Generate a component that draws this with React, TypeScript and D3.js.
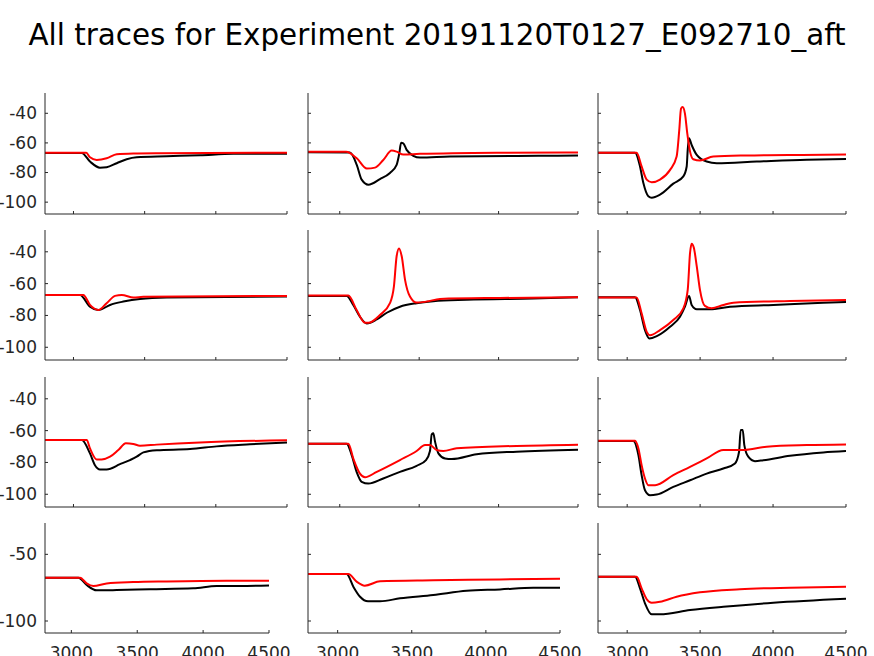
import React from 'react';
import * as d3 from 'd3';

type Pt = [number, number];

const title = 'All traces for Experiment 20191120T0127_E092710_aft';

const xTicks = [3000, 3500, 4000, 4500];
const yTicksUpper = [-100, -80, -60, -40];
const yTicksBottom = [-100, -50];

// row 1
const blackR1C1: Pt[] = [[2800, -66.8], [3058, -66.8], [3116, -72.6], [3186, -76.7], [3233, -76.4], [3304, -73.7], [3374, -71], [3444, -69.7], [3655, -69], [3889, -68.3], [4122, -67.4], [4500, -67.3]];
const redR1C1: Pt[] = [[2800, -66.7], [3090, -66.7], [3116, -69.7], [3163, -71.5], [3233, -70.4], [3304, -67.7], [3420, -67.1], [3600, -66.9], [4500, -66.6]];
const blackR1C2: Pt[] = [[2800, -66.3], [3064, -66.5], [3107, -74.8], [3138, -84.8], [3180, -88.2], [3253, -84.4], [3316, -80.3], [3358, -74.8], [3375, -67], [3386, -59.9], [3400, -60.3], [3421, -64.7], [3463, -68.7], [3505, -69.9], [3694, -69.2], [4250, -68.7], [4500, -68.5]];
const redR1C2: Pt[] = [[2800, -66], [3040, -66], [3107, -70.4], [3170, -77.3], [3222, -76.7], [3274, -71.5], [3327, -65.2], [3358, -65.9], [3400, -67.9], [3505, -67.4], [3988, -66.6], [4500, -66.4]];
const blackR1C3: Pt[] = [[2800, -66.6], [3054, -66.6], [3088, -75.9], [3111, -87.1], [3145, -96], [3168, -97], [3225, -94.9], [3316, -87.5], [3385, -82.6], [3408, -75.9], [3415, -64.7], [3424, -56.9], [3442, -61.4], [3477, -68.1], [3545, -72.6], [3614, -73.7], [3888, -72.6], [4231, -71.3], [4500, -70.8]];
const redR1C3: Pt[] = [[2800, -66.6], [3065, -66.6], [3099, -75.9], [3134, -84.8], [3168, -86.6], [3225, -84.8], [3294, -78.2], [3339, -69.2], [3357, -51.4], [3369, -36.9], [3380, -35.8], [3396, -40.2], [3412, -53.6], [3431, -65.9], [3453, -71], [3499, -71.9], [3590, -69.2], [3819, -68.5], [4200, -68.1], [4500, -67.9]];

// row 2
const blackR2C1: Pt[] = [[2800, -67.1], [3046, -67.1], [3116, -74.5], [3175, -76.6], [3257, -73.4], [3350, -71.3], [3467, -69.6], [3655, -68.7], [4500, -68.1]];
const redR2C1: Pt[] = [[2800, -67.1], [3069, -67.1], [3116, -73.4], [3175, -76.6], [3233, -72.3], [3292, -67.7], [3339, -67.1], [3421, -68.7], [3491, -68.3], [4500, -67.7]];
const blackR2C2: Pt[] = [[2800, -67.7], [3043, -67.7], [3085, -73.4], [3127, -80.8], [3170, -85], [3233, -82.5], [3296, -78.3], [3379, -74.5], [3484, -72.3], [3589, -71.1], [3799, -70.2], [4219, -69.4], [4500, -68.6]];
const redR2C2: Pt[] = [[2800, -67.5], [3054, -67.5], [3106, -76.6], [3159, -84.6], [3180, -84.6], [3253, -79.7], [3316, -72.3], [3341, -61.8], [3358, -42.8], [3373, -37.9], [3390, -42.8], [3411, -57.6], [3442, -68.1], [3484, -71.9], [3547, -71.3], [3631, -69.6], [4009, -69], [4500, -68.6]];
const blackR2C3: Pt[] = [[2800, -68.5], [3054, -68.5], [3088, -76.6], [3122, -89.2], [3152, -94.5], [3203, -93], [3294, -87.1], [3362, -80.8], [3396, -74.5], [3424, -67.7], [3442, -73.4], [3477, -76.1], [3568, -76.1], [3705, -74.5], [4002, -73.4], [4344, -72], [4500, -71.5]];
const redR2C3: Pt[] = [[2800, -68.7], [3065, -68.7], [3099, -78.7], [3134, -90.3], [3157, -92.4], [3225, -89.2], [3316, -82.9], [3385, -75.5], [3415, -63.9], [3431, -40.6], [3442, -34.9], [3457, -37.5], [3477, -49.1], [3499, -63.9], [3533, -74], [3579, -75.5], [3659, -73.4], [3728, -72], [4116, -70.9], [4500, -70.3]];

// row 3
const blackR3C1: Pt[] = [[2800, -65.9], [3058, -65.9], [3116, -74.3], [3151, -81.7], [3186, -84.4], [3233, -84.4], [3327, -81.1], [3397, -78.5], [3444, -76.4], [3491, -73.7], [3585, -72.3], [3819, -71.6], [4006, -69.9], [4240, -68.6], [4500, -67.4]];
const redR3C1: Pt[] = [[2800, -65.9], [3093, -65.9], [3116, -71.2], [3163, -78.1], [3198, -78.1], [3257, -76.4], [3315, -72.2], [3368, -68], [3420, -68.4], [3467, -69.5], [3585, -68.8], [3889, -67.4], [4500, -66.1]];
const blackR3C2: Pt[] = [[2800, -68.2], [3043, -68.2], [3075, -75.4], [3106, -85.9], [3138, -92.2], [3180, -93.3], [3274, -90.1], [3379, -85.9], [3484, -82.1], [3543, -78.5], [3568, -72.8], [3579, -62.3], [3589, -61.7], [3600, -67], [3621, -74.3], [3663, -77.5], [3705, -77.9], [3862, -74.9], [4114, -73.2], [4500, -72]];
const redR3C2: Pt[] = [[2800, -68.2], [3054, -68.2], [3085, -77.5], [3127, -87], [3159, -89.3], [3233, -85.9], [3379, -78.5], [3484, -72.8], [3537, -69.1], [3568, -69.1], [3610, -72.2], [3652, -72.8], [3736, -71.1], [4114, -69.6], [4500, -68.8]];
const blackR3C3: Pt[] = [[2800, -66.5], [3042, -66.5], [3077, -75.4], [3099, -88], [3122, -97.5], [3156, -100.6], [3202, -100.2], [3316, -95.4], [3431, -91.2], [3545, -87], [3659, -83.8], [3739, -80.6], [3767, -73.3], [3778, -59.6], [3792, -59.6], [3803, -69.1], [3830, -76.4], [3876, -79.2], [3933, -78.6], [4116, -75.8], [4344, -73.7], [4500, -72.8]];
const redR3C3: Pt[] = [[2800, -66.3], [3054, -66.3], [3077, -71.2], [3099, -81.7], [3122, -90.1], [3145, -94.3], [3191, -94.3], [3316, -88], [3431, -82.8], [3545, -77.5], [3659, -72.2], [3796, -72.2], [3956, -70.1], [4231, -69.1], [4500, -68.7]];

// row 4
const blackR4C1: Pt[] = [[2800, -67.5], [3053, -67.5], [3116, -73], [3192, -77], [3344, -76.8], [3597, -76.2], [3925, -75.5], [4103, -73.8], [4280, -73.8], [4500, -73.3]];
const redR4C1: Pt[] = [[2800, -67.5], [3066, -67.5], [3116, -71.8], [3167, -73.8], [3268, -71.8], [3470, -70.8], [3723, -70.3], [4178, -69.8], [4500, -69.8]];
const blackR4C2: Pt[] = [[2800, -64.8], [3061, -64.8], [3106, -74.3], [3151, -81.8], [3205, -85.2], [3286, -85.2], [3421, -83], [3645, -80.5], [3871, -77.3], [4095, -76.3], [4320, -75], [4500, -75]];
const redR4C2: Pt[] = [[2800, -64.8], [3072, -64.8], [3128, -70.5], [3183, -73.5], [3286, -70.2], [3645, -69.5], [4095, -68.8], [4500, -68.3]];
const blackR4C3: Pt[] = [[2800, -66.8], [3054, -66.8], [3088, -75.5], [3122, -86.7], [3168, -95], [3225, -95], [3431, -91.8], [3659, -89.3], [4002, -86.3], [4500, -83.3]];
const redR4C3: Pt[] = [[2800, -66.8], [3065, -66.8], [3099, -75.5], [3134, -83.7], [3168, -86.3], [3225, -85.6], [3339, -81.8], [3499, -78.5], [3773, -76.2], [4116, -75], [4500, -74.3]];

const blackSeries = [
  [blackR1C1, blackR1C2, blackR1C3],
  [blackR2C1, blackR2C2, blackR2C3],
  [blackR3C1, blackR3C2, blackR3C3],
  [blackR4C1, blackR4C2, blackR4C3],
];
const redSeries = [
  [redR1C1, redR1C2, redR1C3],
  [redR2C1, redR2C2, redR2C3],
  [redR3C1, redR3C2, redR3C3],
  [redR4C1, redR4C2, redR4C3],
];

const W = 874;
const H = 656;
const axisColor = '#262626';
const font = 'DejaVu Sans, sans-serif';

// axes boxes (top, bottom per row; left/right per panel)
const rowTops = [93, 230, 377, 523];
const rowBottoms = [214, 360, 507, 633];
const colExtents = [
  [[45, 287], [308, 578], [598, 846]],
  [[45, 287], [308, 578], [598, 846]],
  [[45, 287], [308, 578], [598, 846]],
  [[45, 269], [308, 560], [598, 846]],
];

function Panel({ row, col }: { row: number; col: number }) {
  const [x0, x1] = colExtents[row][col];
  const top = rowTops[row];
  const bottom = rowBottoms[row];
  const isBottom = row === 3;
  const yDomain = isBottom ? [-109, -26.5] : [-108, -26.3];
  const x = d3.scaleLinear().domain([2800, 4500]).range([x0, x1]);
  const y = d3.scaleLinear().domain(yDomain).range([bottom, top]);
  const line = d3
    .line<Pt>()
    .x((d) => x(d[0]))
    .y((d) => y(d[1]))
    .curve(d3.curveMonotoneX);
  const yTicks = isBottom ? yTicksBottom : yTicksUpper;

  return (
    <g>
      <path d={line(blackSeries[row][col]) || ''} fill="none" stroke="#000" strokeWidth={2} />
      <path d={line(redSeries[row][col]) || ''} fill="none" stroke="#ff0000" strokeWidth={2} />

      {/* axes */}
      <line x1={x0} x2={x0} y1={top} y2={bottom} stroke={axisColor} strokeWidth={1} />
      <line x1={x0} x2={x1} y1={bottom} y2={bottom} stroke={axisColor} strokeWidth={1} />
      {xTicks.map((t) => (
        <line key={t} x1={x(t)} x2={x(t)} y1={bottom} y2={bottom - 3} stroke={axisColor} strokeWidth={1} />
      ))}
      {yTicks.map((t) => (
        <line key={t} x1={x0} x2={x0 + 3} y1={y(t)} y2={y(t)} stroke={axisColor} strokeWidth={1} />
      ))}
      {col === 0 &&
        yTicks.map((t) => (
          <text
            key={t}
            x={x0 - 8}
            y={y(t)}
            dy="0.35em"
            textAnchor="end"
            fontSize={17}
            fontFamily={font}
            fill={axisColor}
          >
            {t}
          </text>
        ))}
      {isBottom &&
        xTicks.map((t) => (
          <text
            key={t}
            x={x(t)}
            y={bottom + 26}
            textAnchor="middle"
            fontSize={17}
            fontFamily={font}
            fill={axisColor}
          >
            {t}
          </text>
        ))}
    </g>
  );
}

export default function App() {
  const cells: [number, number][] = [];
  for (let r = 0; r < 4; r++) for (let c = 0; c < 3; c++) cells.push([r, c]);
  return (
    <svg
      width={W}
      height={H}
      style={{ position: 'absolute', left: 0, top: 0, background: '#fff' }}
    >
      <rect width={W} height={H} fill="#fff" />
      <text x={437} y={45} textAnchor="middle" fontSize={29.4} fontFamily={font} fill="#000">
        {title}
      </text>
      {cells.map(([r, c]) => (
        <Panel key={`${r}-${c}`} row={r} col={c} />
      ))}
    </svg>
  );
}
